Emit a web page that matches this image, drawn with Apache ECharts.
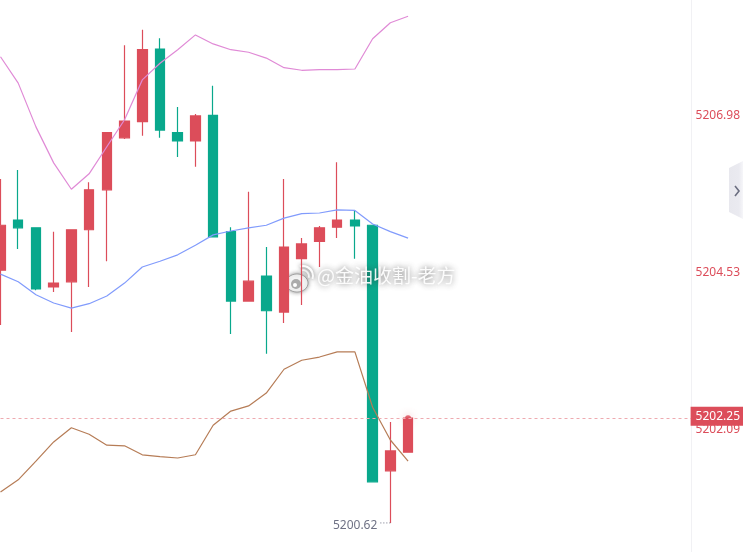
<!DOCTYPE html>
<html><head><meta charset="utf-8">
<style>html,body{margin:0;padding:0;background:#fff}#c{width:743px;height:552px}</style>
<script src="https://cdn.jsdelivr.net/npm/echarts@6/dist/echarts.min.js"></script>
</head><body><div id="c"></div>
<script>
const categories=['1','2','3','4','5','6','7','8','9','10','11','12','13','14','15','16','17','18','19','20','21','22','23','24','25','26','27','28','29','30','31','32','33','34','35','36','37','38','39','40'];
// open, close, low, high
const candles=[
[5204.55,5205.25,5203.70,5205.97],
[5205.33,5205.21,5204.88,5206.11],
[5205.21,5204.26,5204.24,5205.21],
[5204.29,5204.35,5204.21,5205.15],
[5204.37,5205.18,5203.59,5205.18],
[5205.18,5205.80,5204.29,5205.92],
[5205.80,5206.69,5204.69,5206.69],
[5206.61,5206.87,5206.59,5208.05],
[5206.86,5207.98,5206.64,5208.29],
[5207.99,5206.73,5206.61,5208.16],
[5206.69,5206.56,5206.31,5207.09],
[5206.56,5206.95,5206.16,5206.98],
[5206.96,5205.07,5205.07,5207.42],
[5205.15,5204.07,5203.56,5205.22],
[5204.07,5204.38,5204.07,5205.77],
[5204.46,5203.92,5203.25,5204.91],
[5203.90,5204.91,5203.73,5205.97],
[5204.73,5204.96,5204.01,5205.05],
[5205.00,5205.21,5204.60,5205.24],
[5205.22,5205.33,5205.05,5206.23],
[5205.33,5205.24,5204.73,5205.47],
[5205.25,5201.26,5201.26,5205.25],
[5201.43,5201.74,5200.62,5202.19],
[5201.72,5202.25,5201.72,5202.25]];
const upperBand=[5207.87,5207.46,5206.78,5206.22,5205.81,5206.05,5206.47,5206.89,5207.51,5207.77,5207.98,5208.21,5208.07,5207.98,5207.94,5207.85,5207.70,5207.66,5207.67,5207.67,5207.68,5208.15,5208.40,5208.50];
const middleBand=[5204.49,5204.37,5204.17,5204.04,5203.96,5204.03,5204.15,5204.35,5204.60,5204.69,5204.79,5204.94,5205.10,5205.16,5205.21,5205.25,5205.36,5205.43,5205.44,5205.49,5205.48,5205.27,5205.15,5205.05];
const lowerBand=[5201.10,5201.29,5201.58,5201.88,5202.10,5202.00,5201.83,5201.82,5201.68,5201.65,5201.63,5201.68,5202.14,5202.36,5202.44,5202.64,5203.01,5203.15,5203.20,5203.28,5203.28,5202.42,5201.91,5201.58];
const priceTicks=[5206.98,5204.53,5202.09];
const lastPrice=5202.25;
const lowPoint=[22,5200.62];
const lastPoint=[23,5202.25];
const watermark='@金油收割-老方';
const RED='#dc4d5a',GREEN='#09a88c',FONT='"Noto Sans",sans-serif';
const lineSeries=(data,color)=>({type:'line',data,showSymbol:false,silent:true,z:5,lineStyle:{color,width:1.2},itemStyle:{color}});
const chart=echarts.init(document.getElementById('c'),null,{renderer:'canvas'});
chart.setOption({
animation:false,backgroundColor:'#fff',
grid:{left:0.5,right:51,top:0,bottom:0,containLabel:false},
xAxis:{type:'category',data:categories,boundaryGap:false,axisLine:{show:false},axisTick:{show:false},axisLabel:{show:false},splitLine:{show:false}},
yAxis:{type:'value',position:'right',min:5200.168,max:5208.753,scale:true,
 axisLine:{show:true,lineStyle:{color:'#f1f1f4',width:1}},axisTick:{show:false},splitLine:{show:false},
 axisLabel:{show:true,customValues:priceTicks,formatter:v=>v.toFixed(2),color:RED,fontFamily:FONT,fontSize:12,margin:4,align:'left',verticalAlign:'top',lineHeight:13,padding:[-5,0,0,0]}},
series:[
{type:'scatter',data:[lastPoint],symbolSize:6,silent:true,z:1,itemStyle:{color:RED,opacity:.85,shadowBlur:8,shadowColor:'rgba(220,77,90,.5)'}},
{type:'candlestick',data:candles,barWidth:10,z:2,silent:true,
 itemStyle:{color:RED,color0:GREEN,borderColor:RED,borderColor0:GREEN,borderWidth:1.2},
 markLine:{silent:true,symbol:'none',animation:false,z:20,
  lineStyle:{color:'#eeaab0',type:[3,3],width:1},
  label:{show:true,position:'end',distance:0,offset:[-1,-2],formatter:p=>p.value.toFixed(2),color:'#fff',backgroundColor:RED,fontFamily:FONT,fontSize:12,lineHeight:13,padding:[3,5,3,5]},
  data:[{yAxis:lastPrice}]}},
lineSeries(upperBand,'#e08ad6'),
lineSeries(middleBand,'#819bfc'),
lineSeries(lowerBand,'#b67c56'),
{type:'custom',silent:true,z:6,data:[lowPoint],encode:{x:0,y:1},clip:false,
 renderItem:(params,api)=>{const p=api.coord([api.value(0),api.value(1)]);
  return {type:'group',children:[
   {type:'line',shape:{x1:p[0]-10,y1:p[1],x2:p[0],y2:p[1]},style:{stroke:'#6f7285',lineWidth:1,lineDash:[1,2]}},
   {type:'text',x:p[0]-13,y:p[1]+3,style:{text:api.value(1).toFixed(2),fill:'#6f7285',font:'12px '+FONT,align:'right',verticalAlign:'middle'}}]};}}
],
graphic:[
{type:'polygon',z:30,silent:true,shape:{points:[[729,168],[743,161],[743,219],[729,212]]},style:{fill:new echarts.graphic.LinearGradient(0,0,1,0,[{offset:0,color:'#e8e8ee'},{offset:.7,color:'#eaeaf0'},{offset:1,color:'#f6f6f9'}])}},
{type:'polyline',z:31,silent:true,shape:{points:[[735,186],[739,191],[735,196]]},style:{stroke:'#6b6e80',lineWidth:1.6,fill:'none'}},
{type:'text',z:40,silent:true,left:317,top:266,style:{text:watermark,fill:'rgba(255,255,255,.92)',font:'19px "Noto Sans CJK SC"',textShadowBlur:6,textShadowColor:'rgba(40,40,40,.75)'}},
{type:'group',z:40,silent:true,children:[
 {type:'ellipse',shape:{cx:297,cy:283,rx:11,ry:9},style:{fill:'rgba(255,255,255,.92)',stroke:'rgba(130,130,130,.6)',lineWidth:1,shadowBlur:4,shadowColor:'rgba(40,40,40,.6)'}},
 {type:'circle',shape:{cx:296,cy:284,r:5},style:{fill:'rgba(140,140,140,.7)'}},
 {type:'circle',shape:{cx:295,cy:285,r:2},style:{fill:'#fff'}},
 {type:'arc',shape:{cx:303,cy:276,r:6,startAngle:-1.9,endAngle:0.3},style:{stroke:'rgba(255,255,255,.95)',lineWidth:2,fill:'none',shadowBlur:4,shadowColor:'rgba(40,40,40,.7)'}},
 {type:'arc',shape:{cx:303,cy:276,r:10,startAngle:-1.9,endAngle:0.3},style:{stroke:'rgba(255,255,255,.95)',lineWidth:2,fill:'none',shadowBlur:4,shadowColor:'rgba(40,40,40,.7)'}}
]}
]});
</script></body></html>
